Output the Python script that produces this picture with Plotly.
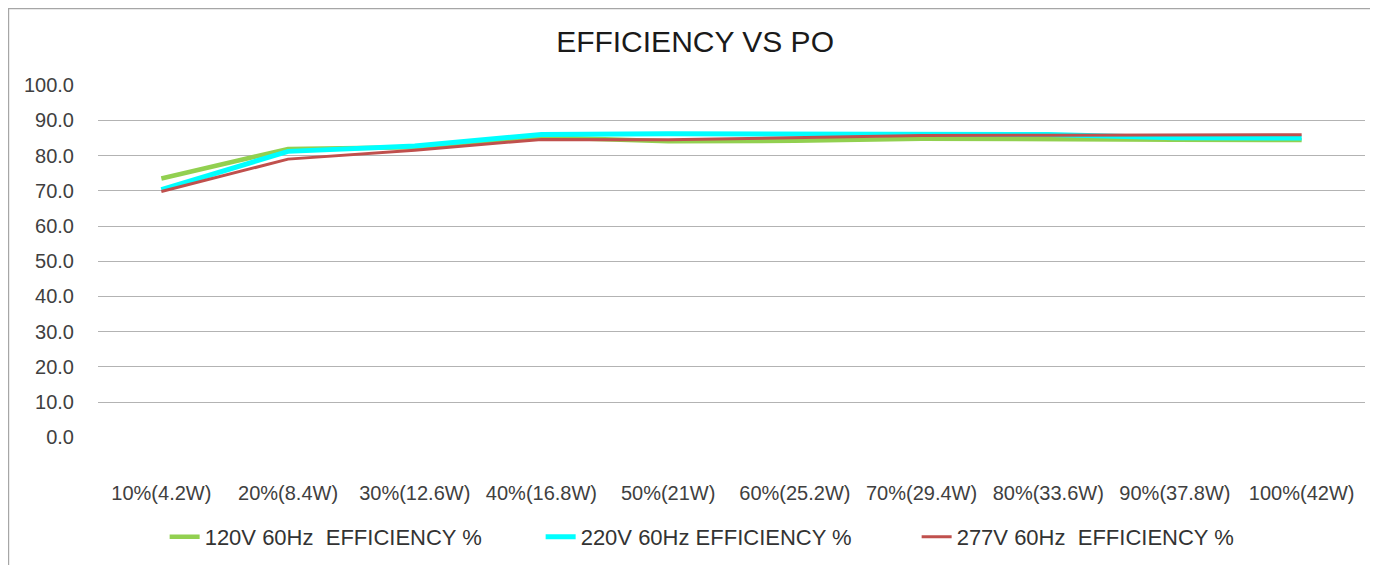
import plotly.graph_objects as go

categories = ["10%(4.2W)", "20%(8.4W)", "30%(12.6W)", "40%(16.8W)", "50%(21W)",
              "60%(25.2W)", "70%(29.4W)", "80%(33.6W)", "90%(37.8W)", "100%(42W)"]
eff_120v = [73.5, 81.9, 82.4, 85.2, 84.1, 84.2, 84.8, 84.8, 84.5, 84.4]
eff_220v = [70.3, 81.2, 82.7, 86.0, 86.2, 86.2, 86.2, 86.0, 85.1, 85.0]
eff_277v = [69.8, 79.0, 81.5, 84.6, 84.5, 85.0, 85.7, 85.8, 85.8, 85.9]
series_names = ["120V 60Hz\u00a0\u00a0EFFICIENCY %", "220V 60Hz EFFICIENCY %",
                "277V 60Hz\u00a0\u00a0EFFICIENCY %"]
y_ticks = [0, 10, 20, 30, 40, 50, 60, 70, 80, 90, 100]

fig = go.Figure()
fig.add_trace(go.Scatter(x=categories, y=eff_120v, mode="lines", name=series_names[0],
                         line=dict(color="#92D050", width=4.5)))
fig.add_trace(go.Scatter(x=categories, y=eff_220v, mode="lines", name=series_names[1],
                         line=dict(color="#00FFFF", width=5)))
fig.add_trace(go.Scatter(x=categories, y=eff_277v, mode="lines", name=series_names[2],
                         line=dict(color="#C0504D", width=3)))

font_family = "Liberation Sans, Arial, sans-serif"
fig.update_layout(
    width=1370, height=557,
    margin=dict(l=90, r=13, t=77, b=127, autoexpand=False),
    paper_bgcolor="white", plot_bgcolor="white",
    font=dict(family=font_family, color="#404040"),
    title=dict(text="EFFICIENCY VS PO", x=0.5015, xanchor="center", y=0.939, yanchor="middle",
               font=dict(size=30, color="#1a1a1a", family=font_family)),
    xaxis=dict(range=[-0.5, 9.5], showgrid=False, zeroline=False, showline=False,
               tickfont=dict(size=20, color="#404040"), ticks="", ticklabelstandoff=41),
    yaxis=dict(range=[-0.2, 100.05], tickvals=y_ticks, tickformat=".1f", showgrid=True,
               gridcolor="#B3B3B3", gridwidth=1.3, zeroline=False, showline=False,
               tickfont=dict(size=20, color="#404040"), ticks="", ticklabelstandoff=23),
    legend=dict(orientation="h", x=0.0526, xanchor="left", y=-0.28, yanchor="middle",
                font=dict(size=22, color="#333333"),
                entrywidth=331, entrywidthmode="pixels", traceorder="normal"),
    shapes=[dict(type="rect", xref="paper", yref="paper", x0=-0.0706, x1=1.2, y0=-1.0, y1=1.2167,
                 line=dict(color="#A6A6A6", width=1.3), fillcolor="rgba(0,0,0,0)", layer="below")],
)

fig.write_html("out.html")
